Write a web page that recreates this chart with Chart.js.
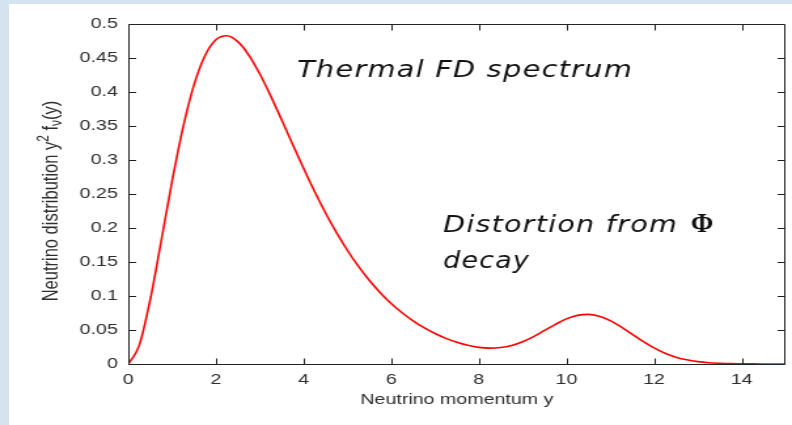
<!DOCTYPE html>
<html><head><meta charset="utf-8">
<script src="https://cdn.jsdelivr.net/npm/chart.js@4"></script>
<style>
html,body{margin:0;padding:0;width:792px;height:425px;overflow:hidden;background:#d5e3f1;}
#panel{position:absolute;left:9px;top:4px;width:783px;height:421px;background:#fff;}
#wrap{position:absolute;left:0;top:0;width:605px;height:425px;transform:scaleX(1.30909);transform-origin:0 0;}
canvas{display:block}
</style></head><body>
<div id="panel"></div>
<div id="wrap"><canvas id="c" width="605" height="425"></canvas></div>
<script>
const SX = 792 / 605;

// momentum y (x values)
const momentum = [0,0.25,0.5,0.75,1,1.25,1.5,1.75,2,2.25,2.5,2.75,3,3.25,3.5,3.75,4,4.25,4.5,4.75,5,5.25,5.5,5.75,6,6.25,6.5,6.75,7,7.25,7.5,7.75,8,8.25,8.5,8.75,9,9.25,9.5,9.75,10,10.25,10.5,10.75,11,11.25,11.5,11.75,12,12.25,12.5,12.75,13,13.25,13.5,13.75,14,14.25,14.5,14.75,15];
// neutrino distribution y^2 f(y)
const distribution = [0,0.0274,0.0944,0.1805,0.2689,0.3480,0.4105,0.4534,0.4768,0.4827,0.4741,0.4544,0.4268,0.3943,0.3591,0.3231,0.2878,0.2540,0.2225,0.1935,0.1673,0.1439,0.1231,0.1049,0.0890,0.0753,0.0635,0.0534,0.0448,0.0377,0.0319,0.0275,0.0245,0.0234,0.0242,0.0272,0.0327,0.0403,0.0493,0.0583,0.0663,0.0715,0.0730,0.0703,0.0638,0.0545,0.0438,0.0332,0.0236,0.0158,0.0101,0.0061,0.0035,0.0019,0.0011,0.0006,0.0004,0.0002,0.0001,0.0001,0.0001];

const xTickValues = [0,2,4,6,8,10,12,14];
const xTickLabels = ['0','2','4','6','8','10','12','14'];
const yTickValues = [0,0.05,0.1,0.15,0.2,0.25,0.3,0.35,0.4,0.45,0.5];
const yTickLabels = ['0','0.05','0.1','0.15','0.2','0.25','0.3','0.35','0.4','0.45','0.5'];

const xTitle = 'Neutrino momentum y';
const yTitleParts = [['Neutrino distribution y','n'],['2','sup'],[' f','n'],['\u03BD','sub'],['(y)','n']];
const note1 = 'Thermal FD spectrum';
const note2a = 'Distortion from ';
const note2phi = '\u03A6';
const note2b = 'decay';

const AXFONT = "'Liberation Sans', Arial, sans-serif";
const TXT = '#2e2e2e';

const boxPlugin = {
  id: 'box',
  afterDraw(chart) {
    const ctx = chart.ctx, ca = chart.chartArea;
    const xs = chart.scales.x, ys = chart.scales.y;
    ctx.save();
    ctx.strokeStyle = '#222';
    ctx.lineWidth = 1;
    const L = Math.round(ca.left) + 0.5, R = Math.round(ca.right) - 0.5;
    const T = Math.round(ca.top) + 0.5, B = Math.round(ca.bottom) + 0.5;
    ctx.beginPath();
    ctx.rect(L, T, R - L, B - T);
    for (const v of xTickValues) {
      const p = Math.round(xs.getPixelForValue(v)) + 0.5;
      ctx.moveTo(p, B); ctx.lineTo(p, B - 6);
      ctx.moveTo(p, T); ctx.lineTo(p, T + 6);
    }
    for (const v of yTickValues) {
      const p = Math.round(ys.getPixelForValue(v)) + 0.5;
      ctx.moveTo(L, p); ctx.lineTo(L + 5.5, p);
      ctx.moveTo(R, p); ctx.lineTo(R - 5.5, p);
    }
    ctx.stroke();

    // y axis title (rotated) with super/subscript
    ctx.fillStyle = TXT;
    ctx.textBaseline = 'alphabetic';
    ctx.textAlign = 'left';
    const fonts = {n: '16.5px ' + AXFONT, sup: '12px ' + AXFONT, sub: '12px ' + AXFONT};
    const dys = {n: 0, sup: -7, sub: 3};
    let total = 0;
    for (const [t, k] of yTitleParts) { ctx.font = fonts[k]; total += ctx.measureText(t).width; }
    ctx.translate(44, 201);
    ctx.rotate(-Math.PI / 2);
    let x = -total / 2;
    for (const [t, k] of yTitleParts) {
      ctx.font = fonts[k];
      ctx.fillText(t, x, dys[k]);
      x += ctx.measureText(t).width;
    }
    ctx.restore();

    // annotations (drawn in real, unstretched pixels)
    ctx.save();
    ctx.scale(1 / SX, 1);
    ctx.fillStyle = '#111';
    ctx.textBaseline = 'alphabetic';
    ctx.textAlign = 'left';
    const hand = "italic 23px 'DejaVu Sans', sans-serif";
    function fitText(t, x0, y0, w) {
      ctx.font = hand;
      ctx.letterSpacing = '1px';
      const m = ctx.measureText(t).width;
      ctx.save();
      ctx.translate(x0, y0);
      ctx.scale(w / m, 1);
      ctx.fillText(t, 0, 0);
      ctx.restore();
      ctx.letterSpacing = '0px';
    }
    fitText(note1, 297, 77, 336);
    fitText(note2a.trim(), 443, 232, 235);
    ctx.font = "bold 27px 'Liberation Serif', serif";
    ctx.fillText(note2phi, 691, 232);
    fitText(note2b, 443, 268, 87);
    ctx.restore();
  }
};

new Chart(document.getElementById('c'), {
  type: 'line',
  data: {
    datasets: [{
      data: momentum.map((x, i) => ({x: x, y: distribution[i]})),
      borderColor: '#ff0000',
      borderWidth: 1.6,
      pointRadius: 0,
      cubicInterpolationMode: 'monotone',
      fill: false
    }]
  },
  options: {
    responsive: false,
    animation: false,
    devicePixelRatio: 1,
    layout: {padding: {left: 0, right: 5, top: 24, bottom: 0}},
    plugins: {legend: {display: false}, tooltip: {enabled: false}},
    scales: {
      x: {
        type: 'linear', min: 0, max: 15,
        grid: {display: false, drawTicks: false},
        border: {display: false},
        afterBuildTicks: s => { s.ticks = xTickValues.map(v => ({value: v})); },
        afterFit: s => { s.height = 61; },
        ticks: {
          padding: 7, color: TXT, maxRotation: 0, autoSkip: false,
          font: {family: AXFONT, size: 15},
          callback: v => xTickLabels[xTickValues.indexOf(v)]
        },
        title: {display: true, text: xTitle, color: TXT, font: {family: AXFONT, size: 15}, padding: {top: 0, bottom: 16}}
      },
      y: {
        type: 'linear', min: 0, max: 0.5,
        grid: {display: false, drawTicks: false},
        border: {display: false},
        afterBuildTicks: s => { s.ticks = yTickValues.map(v => ({value: v})); },
        afterFit: s => { s.width = 98; },
        ticks: {
          padding: 8, color: TXT, autoSkip: false,
          font: {family: AXFONT, size: 15},
          callback: v => yTickLabels[yTickValues.findIndex(t => Math.abs(t - v) < 1e-9)]
        }
      }
    }
  },
  plugins: [boxPlugin]
});
</script>
</body></html>
